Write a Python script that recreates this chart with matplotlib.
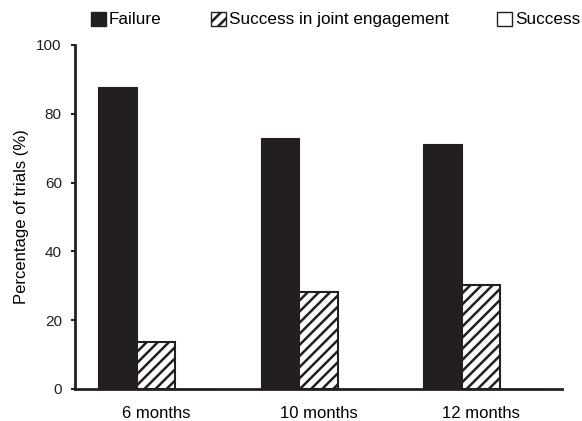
import matplotlib
matplotlib.use("Agg")
import matplotlib.pyplot as plt
import numpy as np
from matplotlib.patches import Patch

plt.rcParams['font.family'] = ['Liberation Sans', 'DejaVu Sans']
plt.rcParams['hatch.linewidth'] = 1.8

categories = ["6 months", "10 months", "12 months"]
failure = [87.7, 72.9, 71.3]
joint = [13.7, 28.3, 30.1]
success = [0.0, 0.0, 0.0]
series_names = ["Failure", "Success in joint engagement", "Success"]
yticks = [0, 20, 40, 60, 80, 100]

fig = plt.figure(figsize=(5.82, 4.21), dpi=100)
ax = fig.add_axes([75 / 582, 1 - 389 / 421, (562 - 75) / 582, (389 - 45) / 421])

x = np.arange(len(categories))
w = 0.237
dark = '#231f20'
ax.bar(x - w, failure, w, color=dark, edgecolor=dark, linewidth=0.8)
ax.bar(x, joint, w, color='white', edgecolor=dark, hatch='///', linewidth=1.5)
ax.bar(x + w, success, w, color='white', edgecolor=dark, linewidth=1.0)

ax.set_xlim(-0.5, 2.5)
ax.set_ylim(0, 100)
ax.set_yticks(yticks)
ax.set_xticks(x)
ax.set_xticklabels(categories, fontsize=12)
ax.tick_params(axis='x', length=0, pad=12)
ax.tick_params(axis='y', direction='out', length=3, width=1.5, labelsize=11, pad=6.5, colors=dark)
for s in ['top', 'right']:
    ax.spines[s].set_visible(False)
for s in ['left', 'bottom']:
    ax.spines[s].set_linewidth(2)
    ax.spines[s].set_color(dark)
ax.set_ylabel("Percentage of trials (%)", fontsize=12, labelpad=5)

handles = [Patch(facecolor=dark, edgecolor=dark),
           Patch(facecolor='white', edgecolor=dark, hatch='///'),
           Patch(facecolor='white', edgecolor=dark)]
fig.legend(handles, series_names, ncol=3, loc='center left',
           bbox_to_anchor=(91 / 582, 1 - 19.5 / 421), frameon=False, fontsize=12.3,
           handlelength=0.88, handleheight=0.88, handletextpad=0.18,
           columnspacing=2.85, borderpad=0, borderaxespad=0)

fig.savefig("out.png", dpi=100)
